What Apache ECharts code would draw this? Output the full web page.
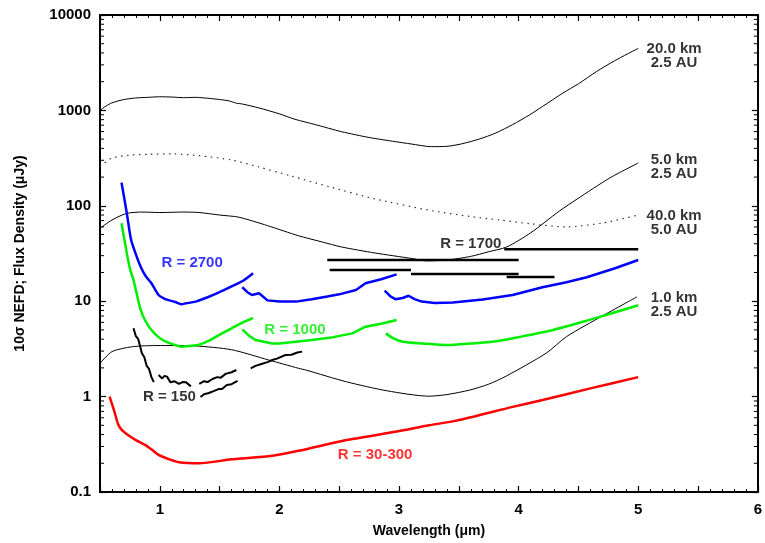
<!DOCTYPE html>
<html>
<head>
<meta charset="utf-8">
<script src="https://cdn.jsdelivr.net/npm/echarts@6/dist/echarts.min.js"></script>
<style>
html,body{margin:0;padding:0;background:#fff;}
#chart{width:765px;height:543px;}
</style>
</head>
<body>
<div id="chart"></div>
<script>
// ---- axis ticks ----
var xTickLabels = ['1','2','3','4','5','6'];
var yTickLabels = ['0.1','1','10','100','1000','10000'];
var yMinorTicks = [0.2,0.3,0.4,0.5,0.6,0.7,0.8,0.9,
  2,3,4,5,6,7,8,9, 20,30,40,50,60,70,80,90,
  200,300,400,500,600,700,800,900, 2000,3000,4000,5000,6000,7000,8000,9000];

// ---- thin black model curves ----
var km20 = [[0.5,1000],[0.55,1110],[0.6,1200],[0.7,1300],[0.8,1350],[0.9,1370],[1.0,1390],[1.1,1380],[1.2,1360],[1.3,1370],[1.4,1340],[1.5,1300],[1.58,1257],[1.64,1190],[1.69,1167],[1.83,1060],[2.0,920],[2.13,807],[2.3,710],[2.52,598],[2.75,520],[2.97,470],[3.1,445],[3.27,417],[3.4,420],[3.52,445],[3.67,500],[3.81,580],[3.95,710],[4.09,895],[4.2,1100],[4.37,1520],[4.5,1900],[4.65,2548],[4.8,3300],[5.0,4470]];
var km40 = [[0.5,257],[0.6,316],[0.75,340],[0.9,347],[1.1,350],[1.33,335],[1.6,302],[1.83,255],[2.1,205],[2.42,158],[2.8,118],[3.25,90],[3.6,77],[3.84,71],[4.09,65],[4.4,60],[4.7,66],[5.0,80]];
var km5 = [[0.5,58],[0.6,71],[0.72,83],[0.85,86],[1.0,85],[1.2,86],[1.33,85],[1.5,80],[1.66,76],[1.9,62],[2.16,48.5],[2.35,42],[2.52,37],[2.8,32],[3.11,28],[3.23,26.5],[3.4,27],[3.6,29.5],[3.75,33],[3.9,37],[4.1,52],[4.34,88],[4.49,118],[4.76,195],[5.0,281]];
var km1 = [[0.5,2.23],[0.6,2.96],[0.77,3.33],[0.97,3.43],[1.13,3.43],[1.3,3.4],[1.6,3.1],[1.91,2.42],[2.16,1.98],[2.22,1.9],[2.56,1.43],[2.9,1.15],[3.25,1.01],[3.4,1.05],[3.59,1.17],[3.75,1.35],[3.9,1.65],[4.23,2.85],[4.4,4.25],[4.7,7.0],[4.99,11.1]];

// ---- R = 2700 (blue) ----
var blue1 = [[0.68,175],[0.72,90],[0.76,44],[0.8,31],[0.84,23],[0.88,18.5],[0.93,15.4],[0.99,11.6],[1.04,10.6],[1.08,10.2],[1.13,9.8],[1.18,9.3],[1.22,9.5],[1.3,9.9],[1.4,11.0],[1.49,12.3],[1.6,14.3],[1.7,16.5],[1.78,19.6]];
var blue2 = [[1.69,14],[1.73,12.5],[1.77,11.6],[1.83,12.1],[1.9,10.2],[2.0,9.9],[2.14,9.9],[2.27,10.5],[2.4,11.2],[2.5,11.8],[2.64,13.1],[2.72,15.4],[2.85,17],[2.98,19.1]];
var blue3 = [[2.88,12.9],[2.93,11.2],[2.97,10.5],[3.03,10.8],[3.08,11.4],[3.13,10.5],[3.19,9.9],[3.3,9.6],[3.45,9.7],[3.7,10.4],[3.95,11.6],[4.2,14],[4.4,15.8],[4.57,17.8],[4.8,22],[5.0,27]];

// ---- R = 1000 (green) ----
var green1 = [[0.68,65.5],[0.72,34],[0.75,22],[0.78,16.7],[0.84,8.1],[0.88,6.2],[0.93,5.0],[0.99,4.2],[1.05,3.76],[1.12,3.5],[1.18,3.34],[1.25,3.4],[1.33,3.5],[1.42,3.9],[1.52,4.6],[1.6,5.2],[1.69,5.96],[1.78,6.7]];
var green2 = [[1.69,5.07],[1.75,4.3],[1.8,3.92],[1.94,3.6],[2.0,3.6],[2.27,3.92],[2.45,4.2],[2.61,4.6],[2.72,5.4],[2.85,5.8],[2.98,6.35]];
var green3 = [[2.89,4.6],[2.95,4.1],[3.03,3.76],[3.2,3.6],[3.4,3.47],[3.6,3.6],[3.81,3.8],[4.0,4.2],[4.26,4.9],[4.57,6.25],[4.8,7.6],[5.0,9.06]];

// ---- R = 150 (black, jagged) ----
var r150a = [[0.78,5.2],[0.8,4.3],[0.82,4.0],[0.84,3.2],[0.85,2.85],[0.87,2.6],[0.89,2.1],[0.91,1.95],[0.93,1.6],[0.95,1.42]];
var r150b = [[0.99,1.68],[1.02,1.55],[1.04,1.65],[1.06,1.62],[1.09,1.41],[1.12,1.45],[1.16,1.36],[1.19,1.42],[1.22,1.41],[1.26,1.28]];
var r150c = [[1.33,1.36],[1.37,1.45],[1.4,1.42],[1.44,1.53],[1.48,1.6],[1.51,1.58],[1.55,1.73],[1.6,1.8],[1.64,1.9]];
var r150d = [[1.34,0.99],[1.37,1.06],[1.41,1.09],[1.45,1.14],[1.49,1.2],[1.52,1.2],[1.56,1.32],[1.6,1.35],[1.65,1.46]];
var r150e = [[1.76,1.98],[1.8,2.1],[1.85,2.2],[1.9,2.3],[1.94,2.42],[1.98,2.5],[2.05,2.73],[2.1,2.75],[2.15,2.9],[2.19,2.96]];

// ---- R = 1700 (black horizontal bars) ----
var r1700a = [[2.4,27],[4.0,27]];
var r1700b = [[2.42,21.2],[3.1,21.2]];
var r1700c = [[3.1,19.3],[4.0,19.3]];
var r1700d = [[3.9,17.9],[4.3,17.9]];
var r1700e = [[3.88,35],[5.0,35]];

// ---- R = 30-300 (red) ----
var red1 = [[0.58,1.0],[0.62,0.7],[0.65,0.52],[0.68,0.45],[0.74,0.39],[0.8,0.35],[0.88,0.31],[0.93,0.28],[0.99,0.245],[1.08,0.22],[1.16,0.205],[1.33,0.2],[1.6,0.22],[1.94,0.24],[2.16,0.27],[2.56,0.35],[2.98,0.43],[3.25,0.5],[3.48,0.56],[3.95,0.78],[4.2,0.92],[4.6,1.22],[5.0,1.6]];

// ---- annotations [x, y, text] ----
var annoBlue = [[1.27,25,'R = 2700']];
var annoGreen = [[2.13,5.0,'R = 1000']];
var annoRed = [[2.8,0.244,'R = 30-300']];
var annoBlack = [[1.08,0.99,'R = 150'],[3.6,39.8,'R = 1700'],
  [5.3,3760,'20.0 km\n2.5 AU'],[5.3,257,'5.0 km\n2.5 AU'],[5.3,66,'40.0 km\n5.0 AU'],[5.3,9.2,'1.0 km\n2.5 AU']];

var FONT = '"Liberation Sans", Arial, sans-serif';
var chart = echarts.init(document.getElementById('chart'), null, {renderer:'canvas'});

function line(data, color, width, type, smooth) {
  return {type:'line', data:data, symbol:'none', smooth:smooth||false, silent:true,
    lineStyle:{color:color, width:width, type:type||'solid'}, z:3};
}
function anno(data, color) {
  return {type:'scatter', data:data, symbolSize:0, silent:true, z:5,
    label:{show:true, position:'inside', color:color, fontFamily:FONT, fontWeight:'bold',
      fontSize:15, lineHeight:14, align:'center', verticalAlign:'middle',
      formatter:function(p){return p.data[2];}}};
}

var xAxisBase = {type:'value', min:0.5, max:6, interval:0.5,
  axisLine:{show:true, onZero:false, lineStyle:{color:'#000', width:2}},
  axisTick:{show:true, inside:true, length:6, lineStyle:{color:'#000', width:1.2}},
  minorTick:{show:true, splitNumber:5, length:3, lineStyle:{color:'#000', width:1}},
  splitLine:{show:false}};
var yAxisBase = {type:'log', logBase:10, min:0.1, max:10000,
  axisLine:{show:true, onZero:false, lineStyle:{color:'#000', width:2}},
  axisTick:{show:true, inside:true, length:6, lineStyle:{color:'#000', width:1.2}},
  splitLine:{show:false}};

var S = 0.25;
var option = {
  animation:false,
  backgroundColor:'#fff',
  grid:{left:100, right:7, top:15, bottom:51, containLabel:false},
  xAxis:[
    Object.assign({}, xAxisBase, {position:'bottom',
      name:'Wavelength (\u03bcm)', nameLocation:'middle', nameGap:32,
      nameTextStyle:{color:'#000', fontFamily:FONT, fontWeight:'bold', fontSize:14},
      axisLabel:{color:'#000', fontFamily:FONT, fontWeight:'bold', fontSize:15, margin:10,
        formatter:function(v){ var s=String(Math.round(v)); return (Math.abs(v-Math.round(v))<1e-6 && xTickLabels.indexOf(s)>=0)? s : ''; }}}),
    Object.assign({}, xAxisBase, {position:'top', axisLabel:{show:false}})
  ],
  yAxis:[
    Object.assign({}, yAxisBase, {position:'left',
      name:'10\u03c3 NEFD; Flux Density (\u03bcJy)', nameLocation:'middle', nameGap:73, nameRotate:90,
      nameTextStyle:{color:'#000', fontFamily:FONT, fontWeight:'bold', fontSize:14},
      axisLabel:{color:'#000', fontFamily:FONT, fontWeight:'bold', fontSize:15, margin:9,
        formatter:function(v){ var s=String(+v.toPrecision(6)); return yTickLabels.indexOf(s)>=0 ? s : ''; }}}),
    Object.assign({}, yAxisBase, {position:'right', axisLabel:{show:false}})
  ],
  series:[
    line(km20,'#000',1,null,S),
    line(km40,'#333',1.2,[1.5,4.5],S),
    line(km5,'#000',1,null,S),
    line(km1,'#000',1,null,S),
    line(blue1,'#0000ff',2.5,null,S), line(blue2,'#0000ff',2.5), line(blue3,'#0000ff',2.5),
    line(green1,'#00ee00',2.5,null,S), line(green2,'#00ee00',2.5), line(green3,'#00ee00',2.5,null,S),
    line(r150a,'#000',2), line(r150b,'#000',2), line(r150c,'#000',2), line(r150d,'#000',2), line(r150e,'#000',2),
    line(r1700a,'#000',2.5), line(r1700b,'#000',2.5), line(r1700c,'#000',2.5), line(r1700d,'#000',2.5), line(r1700e,'#000',2.5),
    line(red1,'#ff0000',2.5,null,S),
    anno(annoBlue,'#0000ff'), anno(annoGreen,'#00ee00'), anno(annoRed,'#ff0000'), anno(annoBlack,'#000'),
    {type:'custom', silent:true, clip:false, z:6,
      data: yMinorTicks.map(function(v){return [0.5, v];}),
      renderItem:function(params, api){
        var v = api.value(1);
        var pl = api.coord([0.5, v]);
        var pr = api.coord([6, v]);
        var st = {stroke:'#000', lineWidth:1};
        return {type:'group', children:[
          {type:'line', shape:{x1:pl[0], y1:pl[1], x2:pl[0]+4, y2:pl[1]}, style:st},
          {type:'line', shape:{x1:pr[0], y1:pr[1], x2:pr[0]-4, y2:pr[1]}, style:st}
        ]};
      }}
  ]
};
chart.setOption(option);
</script>
</body>
</html>
